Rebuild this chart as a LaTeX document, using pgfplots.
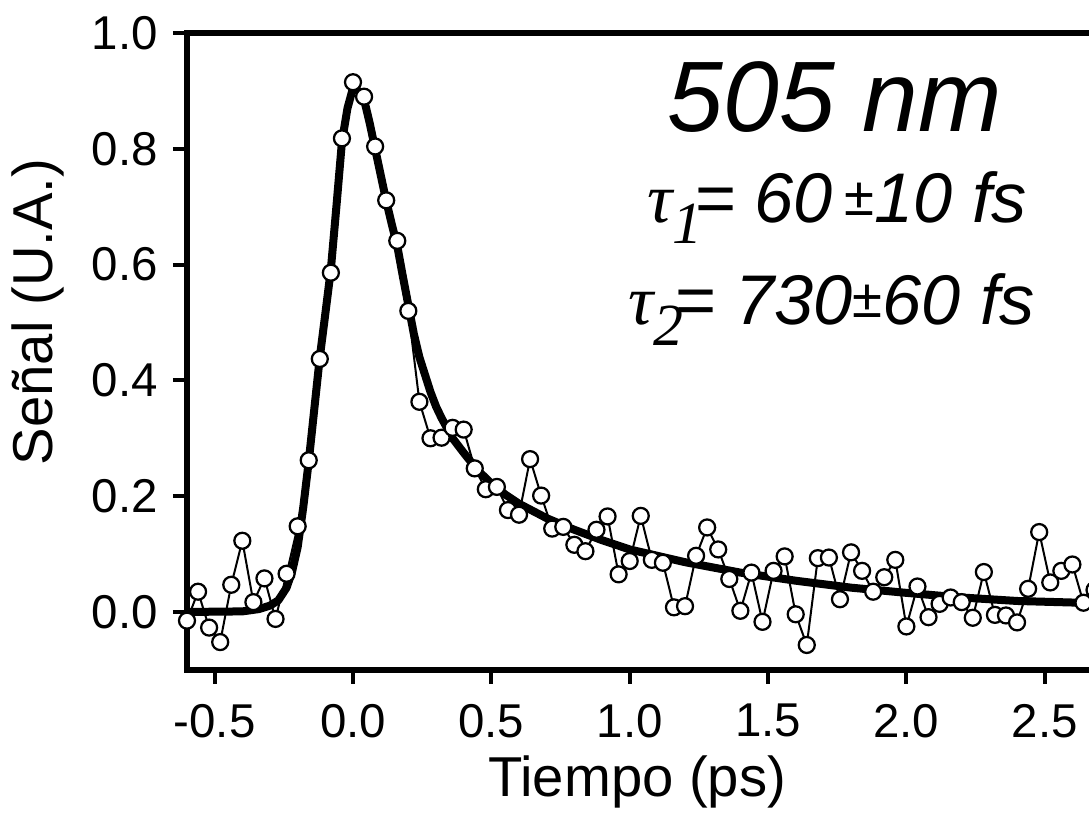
\documentclass[border=0pt]{standalone}
\usepackage{fontspec}
\setmainfont{Liberation Sans}
\newfontfamily\seriffont{Liberation Serif}
\usepackage{pgfplots}
\pgfplotsset{compat=1.18}
\usepackage{pgfplotstable}

\pgfplotstableread{
x y
-0.60 -0.015
-0.56 0.035
-0.52 -0.027
-0.48 -0.052
-0.44 0.047
-0.40 0.123
-0.36 0.017
-0.32 0.058
-0.28 -0.012
-0.24 0.066
-0.20 0.148
-0.16 0.262
-0.12 0.437
-0.08 0.586
-0.04 0.818
0.00 0.915
0.04 0.890
0.08 0.804
0.12 0.711
0.16 0.641
0.20 0.520
0.24 0.363
0.28 0.300
0.32 0.301
0.36 0.318
0.40 0.315
0.44 0.248
0.48 0.212
0.52 0.216
0.56 0.176
0.60 0.168
0.64 0.264
0.68 0.201
0.72 0.144
0.76 0.147
0.80 0.116
0.84 0.105
0.88 0.142
0.92 0.165
0.96 0.065
1.00 0.088
1.04 0.166
1.08 0.090
1.12 0.085
1.16 0.008
1.20 0.010
1.24 0.097
1.28 0.146
1.32 0.108
1.36 0.057
1.40 0.002
1.44 0.068
1.48 -0.017
1.52 0.071
1.56 0.096
1.60 -0.004
1.64 -0.057
1.68 0.093
1.72 0.094
1.76 0.022
1.80 0.103
1.84 0.071
1.88 0.035
1.92 0.060
1.96 0.090
2.00 -0.025
2.04 0.044
2.08 -0.009
2.12 0.014
2.16 0.025
2.20 0.017
2.24 -0.010
2.28 0.069
2.32 -0.005
2.36 -0.006
2.40 -0.018
2.44 0.040
2.48 0.138
2.52 0.051
2.56 0.071
2.60 0.082
2.64 0.016
2.68 0.038
}\datatab

\pgfplotstableread{
x y
-0.60 0.000
-0.40 0.001
-0.34 0.005
-0.30 0.011
-0.27 0.020
-0.24 0.042
-0.22 0.070
-0.20 0.112
-0.18 0.180
-0.16 0.260
-0.14 0.350
-0.12 0.440
-0.10 0.515
-0.08 0.592
-0.06 0.700
-0.04 0.812
-0.02 0.870
0.00 0.905
0.02 0.900
0.04 0.885
0.06 0.845
0.08 0.800
0.10 0.755
0.12 0.710
0.14 0.670
0.16 0.632
0.18 0.580
0.20 0.530
0.22 0.480
0.24 0.440
0.26 0.410
0.28 0.380
0.30 0.355
0.32 0.335
0.36 0.300
0.40 0.275
0.45 0.245
0.50 0.222
0.55 0.203
0.60 0.187
0.70 0.162
0.80 0.142
0.90 0.124
1.00 0.108
1.10 0.097
1.20 0.086
1.40 0.068
1.60 0.054
1.80 0.042
2.00 0.033
2.20 0.025
2.40 0.019
2.70 0.015
}\fittab

\begin{document}
\begin{tikzpicture}
\begin{axis}[
  x=55.34mm, y=115.8mm,
  xmin=-0.6, xmax=2.70, ymin=-0.1, ymax=1.0,
  axis line style={line width=1.1mm},
  every tick/.style={line width=0.8mm, black},
  tick align=outside, major tick length=2.8mm,
  xtick={-0.5,0,0.5,1,1.5,2,2.5},
  ytick={0,0.2,0.4,0.6,0.8,1.0},
  xtick pos=bottom, ytick pos=left,
  minor tick num=0,
  tick label style={font=\fontsize{27}{31}\selectfont},
  /pgf/number format/assume math mode=true,
  /pgf/number format/.cd, fixed, fixed zerofill, precision=1,
  /pgfplots/.cd,
  xticklabel shift=2.8mm,
  yticklabel shift=1.8mm,
  xlabel={Tiempo (ps)},
  ylabel={Señal (U.A.)},
  label style={font=\fontsize{32}{36}\selectfont},
  xlabel style={at={(axis description cs:0.493,-0.176)}, anchor=center},
  ylabel style={at={(axis description cs:-0.1632,0.562)}, anchor=center},
  clip=true,
]
\addplot[black, line width=0.4mm, mark=*, mark size=1.6mm,
  mark options={fill=white, draw=black, line width=0.45mm}] table {\datatab};
\addplot[black, line width=1.6mm, line join=round, no marks] table {\fittab};

\node[anchor=base, font=\fontsize{57}{60}\selectfont\itshape] at (axis cs:1.742,0.830) {505 nm};
\node[anchor=base, font=\fontsize{40}{44}\selectfont\itshape] at (axis cs:1.75,0.672)
  {{\seriffont τ}\raisebox{-0.3em}{\fontsize{34}{36}\selectfont\seriffont 1}\kern-0.12em= 60\,\raisebox{0.1em}{\upshape\fontsize{31}{33}\selectfont ±}10 fs};
\node[anchor=base, font=\fontsize{40}{44}\selectfont\itshape] at (axis cs:1.73,0.496)
  {{\seriffont τ}\raisebox{-0.3em}{\fontsize{34}{36}\selectfont\seriffont 2}\kern-0.12em= 730\raisebox{0.1em}{\upshape\fontsize{31}{33}\selectfont ±}60 fs};

\coordinate (bl) at (axis cs:-0.6,-0.1);
\coordinate (tr) at (axis cs:2.66,1.0);
\end{axis}
\pgfresetboundingbox
\path[use as bounding box] ([xshift=-37.4mm,yshift=-31.0mm]bl) rectangle ([yshift=6.6mm]tr);
\end{tikzpicture}
\end{document}
